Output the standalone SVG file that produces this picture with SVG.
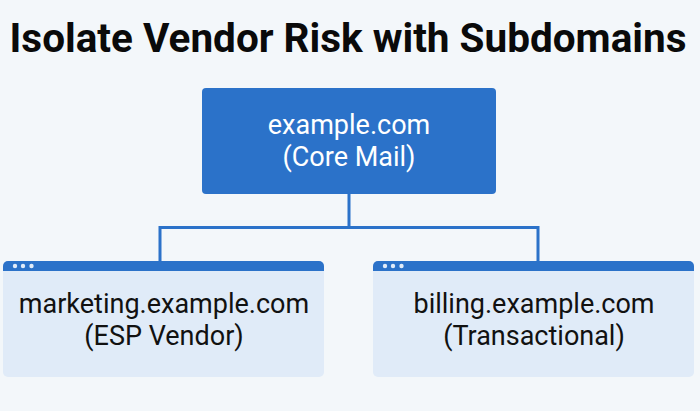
<svg xmlns="http://www.w3.org/2000/svg" width="700" height="411" viewBox="0 0 700 411">
<style>
.bg{fill:#f3f7fa}
.title{font-family:Roboto,"Liberation Sans",sans-serif;font-weight:700;font-size:41px;fill:#0a0a0a}
.lbl{font-family:Roboto,"Liberation Sans",sans-serif;font-size:27px;text-anchor:middle}
.core{fill:#2b72c9}
.card{fill:#e0ebf8}
.bar{fill:#2b72c9}
.dot{fill:#e0ebf8}
.conn{stroke:#2b72c9;stroke-width:3;fill:none}
</style>
<rect class="bg" x="0" y="0" width="700" height="411"/>
<text class="title" x="348" y="52" text-anchor="middle" textLength="677" lengthAdjust="spacingAndGlyphs">Isolate Vendor Risk with Subdomains</text>
<g id="connectors">
<path class="conn" d="M349 194 V227.5 M160 261 V227.5 H538 V261"/>
</g>
<g id="core">
<rect class="core" x="202" y="88" width="294" height="106" rx="4"/>
<text class="lbl" x="349" y="134" fill="#ffffff">example.com</text>
<text class="lbl" x="349" y="166" fill="#ffffff">(Core Mail)</text>
</g>
<g id="marketing">
<rect class="card" x="3" y="261" width="321" height="116" rx="5"/>
<path class="bar" d="M3 271 V266 a5 5 0 0 1 5 -5 H319 a5 5 0 0 1 5 5 V271 Z"/>
<circle class="dot" cx="15" cy="266" r="2.2"/>
<circle class="dot" cx="23" cy="266" r="2.2"/>
<circle class="dot" cx="31.5" cy="266" r="2.2"/>
<text class="lbl" x="164" y="313" fill="#111111">marketing.example.com</text>
<text class="lbl" x="164" y="345" fill="#111111">(ESP Vendor)</text>
</g>
<g id="billing">
<rect class="card" x="373" y="261" width="321" height="116" rx="5"/>
<path class="bar" d="M373 271 V266 a5 5 0 0 1 5 -5 H689 a5 5 0 0 1 5 5 V271 Z"/>
<circle class="dot" cx="385" cy="266" r="2.2"/>
<circle class="dot" cx="393" cy="266" r="2.2"/>
<circle class="dot" cx="401.5" cy="266" r="2.2"/>
<text class="lbl" x="534" y="313" fill="#111111">billing.example.com</text>
<text class="lbl" x="534" y="345" fill="#111111">(Transactional)</text>
</g>
</svg>
